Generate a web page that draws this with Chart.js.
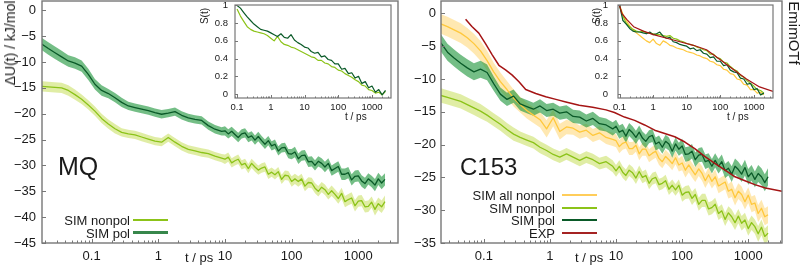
<!DOCTYPE html>
<html><head><meta charset="utf-8">
<script src="https://cdn.jsdelivr.net/npm/chart.js@4.4.1/dist/chart.umd.min.js"></script>
<style>
html,body{margin:0;padding:0;background:#fff;}
#wrap{position:relative;width:800px;height:267px;overflow:hidden;font-family:"Liberation Sans",Arial,sans-serif;color:#1a1a1a;background:#fff;}
canvas{position:absolute;}
.t{position:absolute;white-space:nowrap;line-height:1;}
.rot{position:absolute;white-space:nowrap;line-height:1;transform:translate(-50%,-50%) rotate(-90deg);}
.ln{position:absolute;}
</style></head>
<body><div id="wrap">
<canvas id="mainL" width="400" height="267" style="left:0;top:0"></canvas>
<canvas id="mainR" width="400" height="267" style="left:400px;top:0"></canvas>
<canvas id="insL" width="200" height="125" style="left:200px;top:0"></canvas>
<canvas id="insR" width="200" height="125" style="left:580px;top:0"></canvas>

<div class="rot" style="left:10px;top:43px;font-size:14px">ΔU(t) / kJ/mol</div>
<div class="t" style="left:185px;top:251px;font-size:13px">t / ps</div>
<div class="t" style="left:575px;top:251px;font-size:13px">t / ps</div>
<div class="t" style="left:58px;top:153.5px;font-size:25px">MQ</div>
<div class="t" style="left:460px;top:155px;font-size:24px">C153</div>
<div class="rot" style="left:794px;top:33px;font-size:15px;transform:translate(-50%,-50%) rotate(90deg)">EmimOTf</div>
<div class="rot" style="left:205px;top:16px;font-size:10px">S(t)</div>
<div class="rot" style="left:597px;top:16px;font-size:10px">S(t)</div>
<div class="t" style="left:345px;top:112px;font-size:10px">t / ps</div>
<div class="t" style="left:727px;top:112px;font-size:10px">t / ps</div>

<div class="t" style="right:670px;top:213.5px;font-size:13px">SIM nonpol</div>
<div class="t" style="right:670px;top:226.5px;font-size:13px">SIM pol</div>
<div class="ln" style="left:133px;top:219px;width:35px;height:2px;background:rgb(140,195,25)"></div>
<div class="ln" style="left:133px;top:231px;width:35px;height:3px;background:rgb(55,135,75)"></div>

<div class="t" style="right:245px;top:188.5px;font-size:13px">SIM all nonpol</div>
<div class="t" style="right:245px;top:201.5px;font-size:13px">SIM nonpol</div>
<div class="t" style="right:245px;top:213.5px;font-size:13px">SIM pol</div>
<div class="t" style="right:245px;top:226.5px;font-size:13px">EXP</div>
<div class="ln" style="left:562px;top:194px;width:35px;height:2px;background:rgb(255,205,90)"></div>
<div class="ln" style="left:562px;top:207px;width:35px;height:2px;background:rgb(140,195,25)"></div>
<div class="ln" style="left:562px;top:219px;width:35px;height:2px;background:rgb(10,90,40)"></div>
<div class="ln" style="left:562px;top:232px;width:35px;height:2px;background:rgb(165,35,35)"></div>
</div>
<script>
// ---------- DATA ----------
const mainTimes = [0.0178,0.0224,0.0282,0.0355,0.0447,0.0562,0.0708,0.0891,0.112,0.141,
  0.178,0.224,0.282,0.355,0.447,0.562,0.708,0.891,1.12,1.41,
  1.78,2.24,2.82,3.55,4.47,5.62,7.08,8.91,
  10,11.2,12.6,14.1,15.8,17.8,20,22.4,25.1,28.2,
  31.6,35.5,39.8,44.7,50.1,56.2,63.1,70.8,79.4,89.1,
  100,112,126,141,158,178,200,224,251,282,
  316,355,398,447,501,562,631,708,794,891,
  1000,1122,1259,1413,1585,1778,1995,2239,2512];

// MQ panel
const mqPol = [-6.5,-7.4,-8.2,-9.0,-9.8,-10.2,-10.8,-12.4,-14.3,-15.5,
  -16.1,-16.9,-17.8,-18.5,-18.8,-19.1,-19.4,-19.8,-20.1,-19.9,
  -19.6,-20.3,-20.8,-21.1,-21.3,-22.3,-23.0,-23.4,
  -23.3,-23.9,-23.4,-24.0,-24.6,-23.9,-23.7,-24.6,-24.3,-25.1,
  -24.4,-25.2,-25.9,-25.2,-26.2,-25.9,-27.2,-26.6,-26.5,-27.7,
  -27.8,-27.4,-28.7,-28.1,-28.0,-29.3,-29.2,-30.0,-29.2,-29.6,
  -30.3,-29.6,-31.0,-30.6,-30.2,-31.7,-31.7,-31.4,-32.8,-32.1,
  -32.0,-33.0,-33.5,-32.6,-33.1,-33.8,-32.6,-33.4,-32.7];
const mqPolErr = [1.2,1.2,1.2,1.2,1.1,1.1,1.1,1.1,1.0,1.0,
  0.9,0.9,0.9,0.8,0.8,0.8,0.8,0.8,0.8,0.8,
  0.8,0.8,0.8,0.8,0.8,0.8,0.8,0.8,
  0.9,0.9,0.9,0.9,0.9,0.9,0.9,0.9,0.9,0.9,
  0.9,0.9,0.9,0.9,0.9,0.9,0.9,0.9,0.9,0.9,
  1.0,1.0,1.0,1.0,1.0,1.0,1.0,1.0,1.0,1.0,
  1.0,1.0,1.0,1.0,1.0,1.1,1.1,1.1,1.1,1.1,
  1.1,1.1,1.1,1.1,1.1,1.2,1.2,1.2,1.2];
const mqNonpol = [-14.7,-14.8,-14.9,-15.0,-15.5,-16.3,-17.2,-18.3,-19.5,-20.9,
  -22.0,-22.9,-23.6,-23.9,-24.1,-24.5,-24.9,-25.3,-25.5,-24.6,
  -25.5,-26.3,-26.9,-27.2,-27.5,-27.7,-28.2,-28.6,
  -28.8,-28.4,-29.5,-29.1,-28.8,-29.9,-29.6,-30.6,-29.6,-30.3,
  -30.9,-30.5,-30.3,-31.7,-31.3,-31.8,-31.2,-32.7,-31.9,-32.0,
  -33.1,-32.6,-33.1,-32.6,-34.0,-33.3,-33.4,-34.4,-35.0,-34.2,
  -34.7,-35.6,-34.9,-35.6,-36.4,-35.4,-37.0,-36.6,-36.3,-37.8,
  -36.9,-36.8,-38.0,-37.9,-37.1,-38.5,-37.4,-38.0,-37.0];
const mqNonpolErr = [1.0,1.0,1.0,1.0,1.0,1.0,0.9,0.9,0.9,0.9,
  0.9,0.9,0.8,0.8,0.8,0.8,0.8,0.8,0.8,0.8,
  0.8,0.8,0.8,0.8,0.8,0.8,0.8,0.8,
  0.9,0.9,0.9,0.9,0.9,0.9,0.9,0.9,0.9,0.9,
  0.9,0.9,0.9,0.9,0.9,0.9,0.9,0.9,0.9,0.9,
  1.0,1.0,1.0,1.0,1.0,1.0,1.0,1.0,1.0,1.0,
  1.0,1.0,1.0,1.0,1.0,1.1,1.1,1.1,1.1,1.1,
  1.1,1.1,1.1,1.1,1.1,1.2,1.2,1.2,1.2];

// C153 panel
const c153AllNonpol = [-1.2,-1.6,-2.0,-2.5,-3.0,-3.7,-4.6,-5.7,-7.2,-8.9,
  -10.4,-11.6,-12.9,-13.9,-14.8,-15.5,-16.2,-17.6,-15.9,-18.0,
  -17.3,-17.5,-18.1,-17.8,-18.6,-18.2,-18.9,-19.2,
  -19.4,-20.3,-19.8,-19.6,-20.6,-20.6,-20.1,-21.4,-20.7,-20.7,
  -21.7,-21.3,-21.0,-22.1,-22.6,-21.8,-22.3,-22.9,-22.0,-23.1,
  -22.8,-23.9,-23.1,-23.9,-24.6,-23.7,-24.4,-25.5,-24.6,-25.6,
  -24.9,-26.3,-26.0,-25.7,-27.1,-26.8,-28.1,-27.1,-27.6,-28.7,
  -27.7,-29.1,-28.9,-30.5,-29.7,-31.0,-30.7,null,null];
const c153AllNonpolErr = [1.5,1.5,1.5,1.5,1.5,1.5,1.5,1.5,1.5,1.4,
  1.4,1.3,1.3,1.2,1.2,1.2,1.2,1.3,1.3,1.2,
  1.1,1.0,1.0,1.0,1.0,1.0,1.0,1.0,
  1.0,1.0,1.0,1.0,1.0,1.0,1.0,1.0,1.0,1.0,
  1.0,1.0,1.0,1.0,1.0,1.0,1.0,1.0,1.0,1.0,
  1.1,1.1,1.1,1.1,1.1,1.1,1.1,1.1,1.1,1.1,
  1.1,1.1,1.1,1.1,1.1,1.2,1.2,1.2,1.2,1.2,
  1.2,1.2,1.2,1.3,1.3,1.3,1.3,null,null];
const c153Nonpol = [-12.2,-12.5,-12.8,-13.1,-13.4,-13.9,-14.4,-14.9,-15.5,-16.2,
  -16.9,-17.7,-18.4,-18.9,-19.3,-19.7,-20.4,-20.9,-21.5,-21.9,
  -21.4,-21.9,-22.4,-21.9,-22.3,-22.9,-22.6,-23.3,
  -24.0,-23.3,-24.2,-24.7,-23.9,-24.3,-25.1,-24.1,-25.0,-24.7,
  -25.9,-25.2,-25.0,-26.1,-25.9,-25.5,-26.8,-26.2,-26.9,-26.2,
  -27.7,-27.3,-27.2,-28.2,-27.6,-29.1,-28.5,-28.5,-29.8,-29.6,
  -29.1,-30.5,-30.1,-31.4,-30.4,-31.0,-31.9,-30.9,-32.0,-31.5,
  -32.8,-31.9,-32.5,-33.6,-32.6,-34.0,-33.5,null,null];
const c153NonpolErr = [1.1,1.1,1.1,1.1,1.1,1.1,1.1,1.1,1.0,1.0,
  1.0,1.0,1.0,0.9,0.9,0.9,0.9,0.9,0.9,0.9,
  0.9,0.9,0.9,0.9,0.9,0.9,0.9,0.9,
  0.9,0.9,0.9,0.9,0.9,0.9,0.9,0.9,0.9,0.9,
  0.9,0.9,0.9,0.9,0.9,0.9,0.9,0.9,0.9,0.9,
  1.0,1.0,1.0,1.0,1.0,1.0,1.0,1.0,1.0,1.0,
  1.0,1.0,1.0,1.0,1.0,1.1,1.1,1.1,1.1,1.1,
  1.1,1.1,1.1,1.2,1.2,1.2,1.2,null,null];
const c153Pol = [-3.2,-4.5,-5.9,-6.8,-7.6,-8.3,-8.9,-8.5,-9.0,-10.7,
  -12.3,-13.1,-12.6,-13.8,-14.2,-14.6,-14.1,-14.8,-14.6,-15.2,
  -15.0,-15.7,-15.8,-16.4,-16.0,-16.8,-17.0,-17.6,
  -17.2,-18.1,-17.8,-18.7,-17.7,-18.2,-18.9,-18.1,-19.0,-19.5,
  -18.8,-18.6,-19.9,-19.6,-20.4,-19.5,-19.9,-21.0,-19.9,-20.7,
  -20.2,-21.5,-21.4,-21.0,-22.3,-21.6,-21.5,-22.6,-22.4,-23.3,
  -22.4,-23.3,-22.6,-24.0,-23.6,-24.5,-23.3,-23.8,-24.5,-23.5,
  -24.9,-24.3,-25.3,-24.4,-24.9,-25.8,-24.9,null,null];
const c153PolErr = [1.3,1.3,1.3,1.3,1.3,1.3,1.3,1.3,1.2,1.1,
  1.0,1.0,1.0,1.0,1.0,1.0,1.0,1.0,1.0,1.0,
  1.0,1.0,1.0,1.0,1.0,1.0,1.0,1.0,
  1.0,1.0,1.0,1.0,1.0,1.0,1.0,1.0,1.0,1.0,
  1.0,1.0,1.0,1.0,1.0,1.0,1.0,1.0,1.0,1.0,
  1.1,1.1,1.1,1.1,1.1,1.1,1.1,1.1,1.1,1.1,
  1.1,1.1,1.1,1.1,1.1,1.2,1.2,1.2,1.2,1.2,
  1.2,1.2,1.2,1.3,1.3,1.3,1.3,null,null];
const expTimes = [0.053,0.066,0.084,0.106,0.134,0.169,0.213,0.269,0.34,0.43,
  0.61,0.865,1.23,1.74,2.77,4.43,7.05,9.46,13.4,19.1,
  27,38.4,54.5,77.3,110,155,219,316,447,631,
  891,1259,1820,3240];
const expValues = [-0.9,-2.0,-3.0,-4.6,-6.3,-7.9,-8.6,-9.4,-10.4,-11.6,
  -12.2,-12.7,-13.1,-13.5,-14.0,-14.3,-14.7,-15.1,-15.8,-16.3,
  -17.0,-17.8,-18.3,-18.8,-19.6,-20.6,-21.8,-22.9,-23.9,-24.9,
  -25.5,-26.1,-26.6,-27.1];

// insets S(t)
const insetTimes = [0.1,0.126,0.158,0.2,0.251,0.316,0.398,0.501,0.631,0.794,
  1,1.26,1.58,2,2.51,3.16,3.98,5.01,6.31,7.94,
  10,12.6,15.8,20,25.1,31.6,39.8,50.1,63.1,79.4,
  100,126,158,200,251,316,398,501,631,794,
  1000,1259,1585,1995,2512];
const mqPolS = [1.0,0.97,0.92,0.87,0.83,0.79,0.76,0.73,0.72,0.71,
  0.69,0.67,0.65,0.68,0.64,0.63,0.67,0.61,0.58,0.56,
  0.53,0.52,0.48,0.46,0.47,0.42,0.43,0.39,0.38,0.34,
  0.34,0.28,0.29,0.23,0.24,0.18,0.20,0.12,0.14,0.07,
  0.09,0.02,0.05,-0.01,0.04];
const mqNonpolS = [0.96,0.88,0.82,0.76,0.73,0.71,0.70,0.69,0.68,0.66,
  0.63,0.60,0.65,0.59,0.56,0.55,0.53,0.52,0.50,0.48,
  0.46,0.44,0.42,0.41,0.38,0.38,0.35,0.34,0.31,0.30,
  0.27,0.26,0.23,0.21,0.19,0.16,0.14,0.10,0.09,0.05,
  0.04,0.01,0.02,-0.01,0.03];
const c153AllNonpolS = [1.0,0.90,0.83,0.77,0.72,0.69,0.66,0.63,0.60,0.58,
  0.62,0.57,0.55,0.60,0.58,0.55,0.54,0.52,0.51,0.50,
  0.48,0.47,0.46,0.44,0.43,0.41,0.40,0.37,0.36,0.33,
  0.32,0.28,0.27,0.23,0.22,0.17,0.16,0.11,0.10,0.05,
  0.05,0.01,0.02,-0.01,null];
const c153NonpolS = [1.0,0.88,0.80,0.76,0.73,0.71,0.70,0.71,0.69,0.69,
  0.68,0.67,0.67,0.66,0.65,0.66,0.63,0.62,0.60,0.59,
  0.57,0.56,0.55,0.53,0.52,0.50,0.49,0.45,0.45,0.41,
  0.40,0.36,0.35,0.31,0.28,0.26,0.21,0.19,0.15,0.12,
  0.09,0.05,0.04,0.01,null];
const c153PolS = [1.0,0.83,0.79,0.74,0.71,0.70,0.70,0.69,0.68,0.70,
  0.67,0.68,0.70,0.65,0.63,0.64,0.59,0.58,0.56,0.55,
  0.54,0.51,0.52,0.49,0.50,0.46,0.45,0.41,0.42,0.37,
  0.37,0.32,0.33,0.27,0.25,0.24,0.18,0.17,0.11,0.12,
  0.05,0.06,-0.01,0.01,null];
const expSTimes = [0.1,0.117,0.166,0.263,0.513,1.02,2.57,6.31,15.8,38.9,97.7,240,603,1479,3715];
const expS = [1.0,0.91,0.84,0.76,0.71,0.67,0.63,0.59,0.55,0.50,0.39,0.28,0.17,0.08,0.03];

// tick labels
const mainXTicks = [0.1,1,10,100,1000];
const mqYTicks = [0,-5,-10,-15,-20,-25,-30,-35,-40,-45];
const c153YTicks = [0,-5,-10,-15,-20,-25,-30,-35];
const insetYTicks = [0,0.2,0.4,0.6,0.8,1];

// ---------- STYLE ----------
const FONT = "'Liberation Sans', Arial, sans-serif";
const C = {
  lg: 'rgb(140,195,25)', lgBand: 'rgba(180,212,40,0.42)',
  dg: 'rgb(10,90,40)', dgBand: 'rgba(30,150,60,0.62)',
  ye: 'rgb(255,200,60)', yeBand: 'rgba(255,200,70,0.42)',
  red: 'rgb(165,20,20)'
};

function pts(ts, vs, err, sign) {
  return ts.map((t, i) => ({ x: t, y: vs[i] == null ? null : (err ? vs[i] + sign * err[i] : vs[i]) }));
}
function band(ts, vs, err, color, order) {
  return [
    { data: pts(ts, vs, err, -1), borderWidth: 0, pointRadius: 0, fill: false, order },
    { data: pts(ts, vs, err, 1), borderWidth: 0, pointRadius: 0, fill: '-1', backgroundColor: color, order }
  ];
}
function line(ts, vs, color, w, order) {
  return { data: pts(ts, vs), borderColor: color, borderWidth: w, pointRadius: 0, fill: false, order };
}
function frameTicks(cfg) {
  return {
    id: 'frameTicks',
    afterDatasetsDraw(chart) {
      const { ctx, chartArea: a } = chart;
      const xs = chart.scales.x, ys = chart.scales.y;
      ctx.save();
      ctx.strokeStyle = '#777';
      ctx.lineWidth = 1;
      ctx.beginPath();
      cfg.xMajor.forEach(v => { const p = Math.round(xs.getPixelForValue(v)) + 0.5; ctx.moveTo(p, a.bottom); ctx.lineTo(p, a.bottom - cfg.major); });
      const lo = Math.floor(Math.log10(xs.min)), hi = Math.ceil(Math.log10(xs.max));
      for (let d = lo; d <= hi; d++) for (let k = 2; k <= 9; k++) {
        const v = k * Math.pow(10, d);
        if (v > xs.min && v < xs.max) { const p = Math.round(xs.getPixelForValue(v)) + 0.5; ctx.moveTo(p, a.bottom); ctx.lineTo(p, a.bottom - cfg.minor); }
      }
      cfg.yMajor.forEach(v => { const p = Math.round(ys.getPixelForValue(v)) + 0.5; ctx.moveTo(a.left, p); ctx.lineTo(a.left + cfg.major, p); });
      ctx.stroke();
      ctx.lineWidth = cfg.frame;
      ctx.strokeRect(a.left, a.top, a.right - a.left, a.bottom - a.top);
      ctx.restore();
    }
  };
}
const fmtY = v => v < 0 ? '\u2212' + (-v) : String(v);

function makeChart(id, datasets, c) {
  return new Chart(document.getElementById(id), {
    type: 'line',
    data: { datasets },
    options: {
      responsive: false, animation: false, devicePixelRatio: 1, events: [],
      layout: { padding: { left: 0, right: c.padR, top: c.padT, bottom: 0 } },
      plugins: { legend: { display: false }, tooltip: { enabled: false } },
      elements: { line: { borderJoinStyle: 'round', tension: 0 } },
      scales: {
        x: {
          type: 'logarithmic', min: c.xmin, max: c.xmax,
          grid: { display: false, drawTicks: false }, border: { display: false },
          afterBuildTicks: s => { s.ticks = c.xTicks.map(v => ({ value: v })); },
          afterFit: s => { s.height = c.xH; s.paddingLeft = 0; s.paddingRight = 0; },
          ticks: { autoSkip: false, maxRotation: 0, padding: c.xPad, color: '#1a1a1a', font: { family: FONT, size: c.fs }, callback: v => String(v) }
        },
        y: {
          type: 'linear', min: c.ymin, max: c.ymax,
          grid: { display: false, drawTicks: false }, border: { display: false },
          afterBuildTicks: s => { s.ticks = c.yTicks.map(v => ({ value: v })); },
          afterFit: s => { s.width = c.yW; s.paddingTop = 0; s.paddingBottom = 0; },
          ticks: { autoSkip: false, padding: c.yPad, color: '#1a1a1a', font: { family: FONT, size: c.fs }, callback: fmtY }
        }
      }
    },
    plugins: [frameTicks({ xMajor: c.xTicks, yMajor: c.yTicks, major: c.major, minor: c.minor, frame: c.frame })]
  });
}

// ---------- CHARTS ----------
makeChart('mainL', [
  ...band(mainTimes, mqNonpol, mqNonpolErr, C.lgBand, 12),
  ...band(mainTimes, mqPol, mqPolErr, C.dgBand, 11),
  line(mainTimes, mqNonpol, C.lg, 1.3, 3),
  line(mainTimes, mqPol, C.dg, 1.3, 2)
], { padR: 2, padT: 1, xmin: 0.018, xmax: 3940, ymin: -45, ymax: 1.8, xTicks: mainXTicks, yTicks: mqYTicks,
     xH: 24, yW: 42, xPad: 6, yPad: 6, fs: 13, major: 4, minor: 2.5, frame: 1.4 });

makeChart('mainR', [
  ...band(mainTimes, c153AllNonpol, c153AllNonpolErr, C.yeBand, 13),
  ...band(mainTimes, c153Nonpol, c153NonpolErr, C.lgBand, 12),
  ...band(mainTimes, c153Pol, c153PolErr, C.dgBand, 11),
  line(mainTimes, c153AllNonpol, C.ye, 1.3, 4),
  line(mainTimes, c153Nonpol, C.lg, 1.3, 3),
  line(mainTimes, c153Pol, C.dg, 1.3, 2),
  line(expTimes, expValues, C.red, 1.5, 1)
], { padR: 18, padT: 1, xmin: 0.0225, xmax: 3240, ymin: -35, ymax: 1.9, xTicks: mainXTicks, yTicks: c153YTicks,
     xH: 24, yW: 41, xPad: 6, yPad: 5, fs: 13, major: 4, minor: 2.5, frame: 1.4 });

makeChart('insL', [
  line(insetTimes, mqNonpolS, C.lg, 1.2, 3),
  line(insetTimes, mqPolS, C.dg, 1.2, 2)
], { padR: 9, padT: 5, xmin: 0.087, xmax: 3655, ymin: -0.045, ymax: 1.005, xTicks: mainXTicks, yTicks: insetYTicks,
     xH: 27, yW: 35, xPad: 4, yPad: 7, fs: 9.5, major: 3, minor: 1.5, frame: 1.2 });

makeChart('insR', [
  line(insetTimes, c153AllNonpolS, C.ye, 1.2, 5),
  line(insetTimes, c153NonpolS, C.lg, 1.2, 4),
  line(insetTimes, c153PolS, C.dg, 1.2, 3),
  line(expSTimes, expS, C.red, 1.2, 1)
], { padR: 7, padT: 5, xmin: 0.09, xmax: 3720, ymin: -0.045, ymax: 1.005, xTicks: mainXTicks, yTicks: insetYTicks,
     xH: 27, yW: 38, xPad: 4, yPad: 10, fs: 9.5, major: 3, minor: 1.5, frame: 1.2 });
</script>
</body></html>
